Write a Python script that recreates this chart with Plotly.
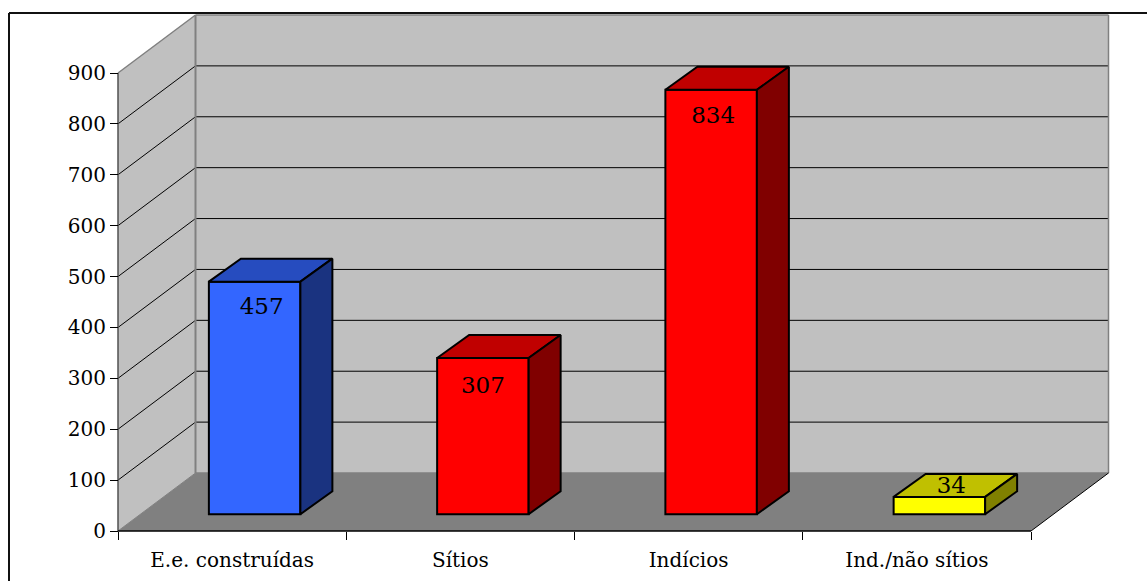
import plotly.graph_objects as go

# Chart data
categories = ["E.e. construídas", "Sítios", "Indícios", "Ind./não sítios"]
values = [457, 307, 834, 34]
y_ticks = [0, 100, 200, 300, 400, 500, 600, 700, 800, 900]

# Face colours of each column: front, top, side
front_colors = ["#3366FF", "#FF0000", "#FF0000", "#FFFF00"]
top_colors = ["#264CBF", "#C00000", "#C00000", "#C0C000"]
side_colors = ["#1A3380", "#800000", "#800000", "#808000"]

# Canvas and pixel scale of the axes
W, H = 1147, 581
X0_PX, Y0_PX = 118.0, 531.0
PX_PER_CAT = (1031.0 - 118.0) / 4
PX_PER_UNIT = (531.0 - 73.0) / 900

# Oblique projection, expressed in axis units
WALL_DX, WALL_DY = 77.5 / PX_PER_CAT, 58.0 / PX_PER_UNIT
BAR_DX, BAR_DY = 32.0 / PX_PER_CAT, 23.0 / PX_PER_UNIT
BAR_BASE = 16.8 / PX_PER_UNIT
BAR_SHIFT = 22.5 / PX_PER_CAT
BAR_WIDTH = 91.5 / PX_PER_CAT

# Value label placement relative to the top of the front face, in pixels
label_shift_x = [7, 0, 2, 12]
label_drop_y = [27, 29, 27, -10]

x_range = [-X0_PX / PX_PER_CAT, (W - X0_PX) / PX_PER_CAT]
y_range = [-(H - Y0_PX) / PX_PER_UNIT, Y0_PX / PX_PER_UNIT]
n = len(categories)
y_max = y_ticks[-1]


def poly(points):
    return "M " + " L ".join(f"{x},{y}" for x, y in points) + " Z"


def data_shape(path, fill, line_color=None, line_width=0):
    return dict(
        type="path", xref="x", yref="y", layer="below", path=path,
        fillcolor=fill, line=dict(color=line_color or fill, width=line_width),
    )


def data_line(x0, y0, x1, y1, color, width):
    return dict(
        type="line", xref="x", yref="y", layer="below",
        x0=x0, y0=y0, x1=x1, y1=y1, line=dict(color=color, width=width),
    )


shapes = []
# Side wall, back wall and floor
shapes.append(data_shape(poly([(0, 0), (WALL_DX, WALL_DY), (WALL_DX, y_max + WALL_DY), (0, y_max)]), "#C0C0C0"))
shapes.append(data_shape(poly([(WALL_DX, WALL_DY), (n + WALL_DX, WALL_DY), (n + WALL_DX, y_max + WALL_DY), (WALL_DX, y_max + WALL_DY)]), "#C0C0C0"))
shapes.append(data_shape(poly([(0, 0), (n, 0), (n + WALL_DX, WALL_DY), (WALL_DX, WALL_DY)]), "#808080"))

# Gridlines run along the side wall and across the back wall
for t in y_ticks[1:-1]:
    shapes.append(data_line(0, t, WALL_DX, t + WALL_DY, "#000000", 1))
    shapes.append(data_line(WALL_DX, t + WALL_DY, n + WALL_DX, t + WALL_DY, "#000000", 1))

# Wall outlines
edge = "#808080"
shapes.append(data_line(0, y_max, WALL_DX, y_max + WALL_DY, edge, 1.5))
shapes.append(data_line(WALL_DX, WALL_DY, WALL_DX, y_max + WALL_DY, edge, 2))
shapes.append(data_line(n + WALL_DX, WALL_DY, n + WALL_DX, y_max + WALL_DY, edge, 1.5))
shapes.append(data_line(WALL_DX, y_max + WALL_DY, n + WALL_DX, y_max + WALL_DY, edge, 1.5))
shapes.append(data_line(WALL_DX, WALL_DY, n + WALL_DX, WALL_DY, edge, 1.5))
shapes.append(data_line(0, 0, WALL_DX, WALL_DY, edge, 1))
shapes.append(data_line(n, 0, n + WALL_DX, WALL_DY, "#000000", 1))

# Axis lines
shapes.append(data_line(0, 0, 0, y_max, "#505050", 1.5))
shapes.append(data_line(0, 0, n, 0, "#000000", 1.5))

# Page frame, open on the right and at the bottom
for x0, y0, x1, y1 in [(9, 13, W, 13), (9, 13, 9, H)]:
    shapes.append(dict(
        type="line", xref="paper", yref="paper",
        x0=x0 / W, x1=x1 / W, y0=1 - y0 / H, y1=1 - y1 / H,
        line=dict(color="#111111", width=2),
    ))

centers = [i + 0.5 + BAR_SHIFT for i in range(n)]
tops = [BAR_BASE + v for v in values]

fig = go.Figure()

# Front faces of the columns
fig.add_trace(go.Bar(
    x=centers, y=values, base=BAR_BASE, width=BAR_WIDTH,
    marker=dict(color=front_colors, line=dict(color="#000000", width=2)),
    showlegend=False, hoverinfo="skip",
))

# Top and side faces
for c, top, top_col, side_col in zip(centers, tops, top_colors, side_colors):
    left, right = c - BAR_WIDTH / 2, c + BAR_WIDTH / 2
    fig.add_trace(go.Scatter(
        x=[left, right, right + BAR_DX, left + BAR_DX, left],
        y=[top, top, top + BAR_DY, top + BAR_DY, top],
        mode="lines", fill="toself", fillcolor=top_col,
        line=dict(color="#000000", width=2), showlegend=False, hoverinfo="skip",
    ))
    fig.add_trace(go.Scatter(
        x=[right, right + BAR_DX, right + BAR_DX, right, right],
        y=[BAR_BASE, BAR_BASE + BAR_DY, top + BAR_DY, top, BAR_BASE],
        mode="lines", fill="toself", fillcolor=side_col,
        line=dict(color="#000000", width=2), showlegend=False, hoverinfo="skip",
    ))

# Value labels
fig.add_trace(go.Scatter(
    x=[c + s / PX_PER_CAT for c, s in zip(centers, label_shift_x)],
    y=[t - d / PX_PER_UNIT for t, d in zip(tops, label_drop_y)],
    mode="text", text=[str(v) for v in values], textposition="middle center",
    textfont=dict(family="DejaVu Serif", size=23, color="#000000"),
    showlegend=False, hoverinfo="skip",
))

fig.update_layout(
    width=W, height=H, margin=dict(l=0, r=0, t=0, b=0),
    paper_bgcolor="#FFFFFF", plot_bgcolor="#FFFFFF",
    shapes=shapes, showlegend=False, barmode="overlay",
    xaxis=dict(
        range=x_range, domain=[0, 1], anchor="free", position=1 - Y0_PX / H,
        showgrid=False, zeroline=False, showline=False, fixedrange=True,
        tickmode="array", tickvals=[i + 0.5 for i in range(n)], ticktext=categories,
        ticks="outside", ticklen=11, tickcolor="rgba(0,0,0,0)",
        tickfont=dict(family="DejaVu Serif", size=20, color="#000000"),
        minor=dict(
            tickmode="array", tickvals=list(range(n + 1)),
            ticks="outside", ticklen=8, tickwidth=1, tickcolor="#000000", showgrid=False,
        ),
    ),
    yaxis=dict(
        range=y_range, domain=[0, 1], anchor="free", position=X0_PX / W,
        showgrid=False, zeroline=False, showline=False, fixedrange=True,
        tickmode="array", tickvals=y_ticks,
        ticks="outside", ticklen=8, tickwidth=1, tickcolor="#000000",
        tickfont=dict(family="DejaVu Serif", size=20, color="#000000"),
    ),
)

fig.write_html("out.html", config=dict(displayModeBar=False))
